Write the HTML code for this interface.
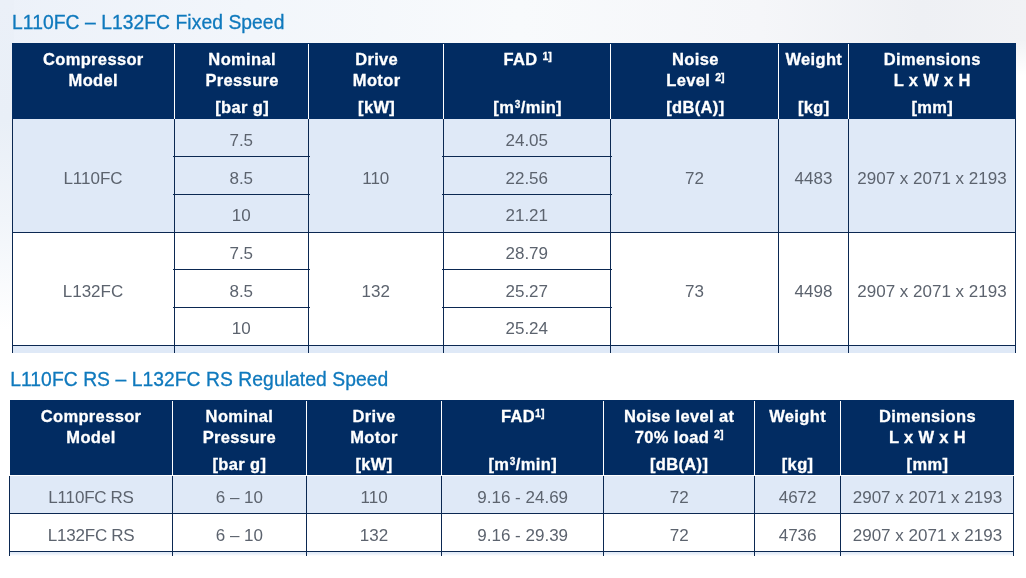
<!DOCTYPE html>
<html lang="en"><head><meta charset="utf-8"><title>L110FC – L132FC</title>
<style>
html,body{margin:0;padding:0}
body{width:1026px;height:578px;overflow:hidden;position:relative;background:#fff;font-family:"Liberation Sans",sans-serif}
.bg{position:absolute;left:0;top:0;width:1026px;height:75px;background:linear-gradient(180deg,rgba(255,255,255,0) 0,rgba(255,255,255,0) 40px,#fff 75px),linear-gradient(90deg,#ecf1f9 0,#f2f6fb 250px,#f8fafc 520px,#f5f6f9 760px,#eef0f4 920px,#f1f2f5 1026px)}
.bgl{position:absolute;left:0;top:0;width:14px;height:340px;background:linear-gradient(180deg,#ebf0f8 0,#e9eff7 120px,#f1f5fa 220px,#fff 330px)}
.r{position:absolute}
.h{position:absolute;color:#fff;font-weight:bold;font-size:16.5px;line-height:21px;text-align:center;white-space:nowrap;letter-spacing:.35px;-webkit-text-stroke:.3px #fff}
.h sup{font-size:10.6px;line-height:0;vertical-align:baseline;position:relative;top:-4.8px;letter-spacing:0}
.h sup.c{font-size:10px;top:-5px;margin:0 .5px}
.d{position:absolute;color:#5c636e;font-size:17px;line-height:20px;text-align:center;white-space:nowrap}
.t{position:absolute;color:#0f79bd;font-size:19.3px;line-height:24px;white-space:nowrap;letter-spacing:.06px;-webkit-text-stroke:.3px #0f79bd}

</style></head><body>
<div class="bg"></div><div class="bgl"></div>
<div class="t" style="left:12px;top:11px">L110FC – L132FC Fixed Speed</div>
<div class="r" style="left:12px;top:43px;width:1003.5px;height:76px;background:#022c62"></div>
<div class="r" style="left:12px;top:119px;width:1003.5px;height:113px;background:#dfe9f7"></div>
<div class="r" style="left:12px;top:232px;width:1003.5px;height:113px;background:#fff"></div>
<div class="r" style="left:12px;top:345px;width:1003.5px;height:7.5px;background:#dfe9f7"></div>
<div class="r" style="left:173.5px;top:44px;width:1px;height:75px;background:#fff"></div>
<div class="r" style="left:308.0px;top:44px;width:1px;height:75px;background:#fff"></div>
<div class="r" style="left:442.5px;top:44px;width:1px;height:75px;background:#fff"></div>
<div class="r" style="left:610.0px;top:44px;width:1px;height:75px;background:#fff"></div>
<div class="r" style="left:778.0px;top:44px;width:1px;height:75px;background:#fff"></div>
<div class="r" style="left:848.0px;top:44px;width:1px;height:75px;background:#fff"></div>
<div class="r" style="left:11.5px;top:119px;width:1.2px;height:233.5px;background:#0b2852"></div>
<div class="r" style="left:173.5px;top:119px;width:1.2px;height:233.5px;background:#0b2852"></div>
<div class="r" style="left:308.0px;top:119px;width:1.2px;height:233.5px;background:#0b2852"></div>
<div class="r" style="left:442.5px;top:119px;width:1.2px;height:233.5px;background:#0b2852"></div>
<div class="r" style="left:610.0px;top:119px;width:1.2px;height:233.5px;background:#0b2852"></div>
<div class="r" style="left:778.0px;top:119px;width:1.2px;height:233.5px;background:#0b2852"></div>
<div class="r" style="left:848.0px;top:119px;width:1.2px;height:233.5px;background:#0b2852"></div>
<div class="r" style="left:1015px;top:119px;width:1.2px;height:233.5px;background:#0b2852"></div>
<div class="r" style="left:12px;top:231.5px;width:1003.5px;height:1.2px;background:#0b2852"></div>
<div class="r" style="left:12px;top:344.5px;width:1003.5px;height:1.2px;background:#0b2852"></div>
<div class="r" style="left:173px;top:156.0px;width:137.0px;height:1.2px;background:#0b2852"></div>
<div class="r" style="left:442px;top:156.0px;width:170.0px;height:1.2px;background:#0b2852"></div>
<div class="r" style="left:173px;top:193.8px;width:137.0px;height:1.2px;background:#0b2852"></div>
<div class="r" style="left:442px;top:193.8px;width:170.0px;height:1.2px;background:#0b2852"></div>
<div class="r" style="left:173px;top:269.2px;width:137.0px;height:1.2px;background:#0b2852"></div>
<div class="r" style="left:442px;top:269.2px;width:170.0px;height:1.2px;background:#0b2852"></div>
<div class="r" style="left:173px;top:306.8px;width:137.0px;height:1.2px;background:#0b2852"></div>
<div class="r" style="left:442px;top:306.8px;width:170.0px;height:1.2px;background:#0b2852"></div>
<div class="h" style="left:12.3px;width:162.0px;top:49px">Compressor<br>Model</div>
<div class="h" style="left:174.9px;width:134.49999999999997px;top:49px">Nominal<br>Pressure</div>
<div class="h" style="left:174.9px;width:134.49999999999997px;top:97px">[bar g]</div>
<div class="h" style="left:309.4px;width:134.5px;top:49px">Drive<br>Motor</div>
<div class="h" style="left:309.4px;width:134.5px;top:97px">[kW]</div>
<div class="h" style="left:443.9px;width:167.5px;top:49px">FAD <sup>1]</sup></div>
<div class="h" style="left:443.9px;width:167.5px;top:97px">[m<sup class="c">3</sup>/min]</div>
<div class="h" style="left:611.4px;width:168.0px;top:49px">Noise<br>Level <sup>2]</sup></div>
<div class="h" style="left:611.4px;width:168.0px;top:97px">[dB(A)]</div>
<div class="h" style="left:778.8px;width:70.0px;top:49px">Weight</div>
<div class="h" style="left:778.8px;width:70.0px;top:97px">[kg]</div>
<div class="h" style="left:848.8px;width:167.0px;top:49px">Dimensions<br>L x W x H</div>
<div class="h" style="left:848.8px;width:167.0px;top:97px">[mm]</div>
<div class="d" style="left:12px;width:162px;top:168.6px">L110FC</div>
<div class="d" style="left:308.5px;width:134.5px;top:168.6px">110</div>
<div class="d" style="left:610.5px;width:168.0px;top:168.6px">72</div>
<div class="d" style="left:778.5px;width:70.0px;top:168.6px">4483</div>
<div class="d" style="left:848.5px;width:167.0px;top:168.6px">2907 x 2071 x 2193</div>
<div class="d" style="left:174px;width:134.5px;top:130.95px">7.5</div>
<div class="d" style="left:443px;width:167.5px;top:130.95px">24.05</div>
<div class="d" style="left:174px;width:134.5px;top:168.6px">8.5</div>
<div class="d" style="left:443px;width:167.5px;top:168.6px">22.56</div>
<div class="d" style="left:174px;width:134.5px;top:206.35px">10</div>
<div class="d" style="left:443px;width:167.5px;top:206.35px">21.21</div>
<div class="d" style="left:12px;width:162px;top:281.7px">L132FC</div>
<div class="d" style="left:308.5px;width:134.5px;top:281.7px">132</div>
<div class="d" style="left:610.5px;width:168.0px;top:281.7px">73</div>
<div class="d" style="left:778.5px;width:70.0px;top:281.7px">4498</div>
<div class="d" style="left:848.5px;width:167.0px;top:281.7px">2907 x 2071 x 2193</div>
<div class="d" style="left:174px;width:134.5px;top:244.04999999999998px">7.5</div>
<div class="d" style="left:443px;width:167.5px;top:244.04999999999998px">28.79</div>
<div class="d" style="left:174px;width:134.5px;top:281.7px">8.5</div>
<div class="d" style="left:443px;width:167.5px;top:281.7px">25.27</div>
<div class="d" style="left:174px;width:134.5px;top:319.34999999999997px">10</div>
<div class="d" style="left:443px;width:167.5px;top:319.34999999999997px">25.24</div>
<div class="t" style="left:10.2px;top:367.8px">L110FC RS – L132FC RS Regulated Speed</div>
<div class="r" style="left:9.8px;top:400.3px;width:1004.4000000000001px;height:75.19999999999999px;background:#022c62"></div>
<div class="r" style="left:9.8px;top:475.5px;width:1004.4000000000001px;height:38.200000000000045px;background:#dfe9f7"></div>
<div class="r" style="left:9.8px;top:513.7px;width:1004.4000000000001px;height:37.799999999999955px;background:#fff"></div>
<div class="r" style="left:9.8px;top:551.5px;width:1004.4000000000001px;height:4.5px;background:linear-gradient(180deg,#dfe9f7 0,#e6eef9 40%,#fff 100%)"></div>
<div class="r" style="left:171.8px;top:401.3px;width:1px;height:74.19999999999999px;background:#fff"></div>
<div class="r" style="left:306.0px;top:401.3px;width:1px;height:74.19999999999999px;background:#fff"></div>
<div class="r" style="left:441.1px;top:401.3px;width:1px;height:74.19999999999999px;background:#fff"></div>
<div class="r" style="left:603.3px;top:401.3px;width:1px;height:74.19999999999999px;background:#fff"></div>
<div class="r" style="left:754.0px;top:401.3px;width:1px;height:74.19999999999999px;background:#fff"></div>
<div class="r" style="left:840.2px;top:401.3px;width:1px;height:74.19999999999999px;background:#fff"></div>
<div class="r" style="left:9.3px;top:475.5px;width:1.2px;height:80.5px;background:#0b2852"></div>
<div class="r" style="left:171.8px;top:475.5px;width:1.2px;height:80.5px;background:#0b2852"></div>
<div class="r" style="left:306.0px;top:475.5px;width:1.2px;height:80.5px;background:#0b2852"></div>
<div class="r" style="left:441.1px;top:475.5px;width:1.2px;height:80.5px;background:#0b2852"></div>
<div class="r" style="left:603.3px;top:475.5px;width:1.2px;height:80.5px;background:#0b2852"></div>
<div class="r" style="left:754.0px;top:475.5px;width:1.2px;height:80.5px;background:#0b2852"></div>
<div class="r" style="left:840.2px;top:475.5px;width:1.2px;height:80.5px;background:#0b2852"></div>
<div class="r" style="left:1013px;top:475.5px;width:1.2px;height:80.5px;background:#0b2852"></div>
<div class="r" style="left:9.8px;top:513.2px;width:1004.4000000000001px;height:1.2px;background:#0b2852"></div>
<div class="r" style="left:9.8px;top:551.0px;width:1004.4000000000001px;height:1.2px;background:#0b2852"></div>
<div class="h" style="left:9.8px;width:162.5px;top:406px">Compressor<br>Model</div>
<div class="h" style="left:172.3px;width:134.2px;top:406px">Nominal<br>Pressure</div>
<div class="h" style="left:172.3px;width:134.2px;top:454px">[bar g]</div>
<div class="h" style="left:306.5px;width:135.10000000000002px;top:406px">Drive<br>Motor</div>
<div class="h" style="left:306.5px;width:135.10000000000002px;top:454px">[kW]</div>
<div class="h" style="left:441.6px;width:162.19999999999993px;top:406px">FAD<sup>1]</sup></div>
<div class="h" style="left:441.6px;width:162.19999999999993px;top:454px">[m<sup class="c">3</sup>/min]</div>
<div class="h" style="left:603.8px;width:150.70000000000005px;top:406px">Noise level at<br>70% load <sup>2]</sup></div>
<div class="h" style="left:603.8px;width:150.70000000000005px;top:454px">[dB(A)]</div>
<div class="h" style="left:754.5px;width:86.20000000000005px;top:406px">Weight</div>
<div class="h" style="left:754.5px;width:86.20000000000005px;top:454px">[kg]</div>
<div class="h" style="left:840.7px;width:173.5px;top:406px">Dimensions<br>L x W x H</div>
<div class="h" style="left:840.7px;width:173.5px;top:454px">[mm]</div>
<div class="d" style="left:9.8px;width:162.5px;top:487.8px"><span style="word-spacing:-.5px;letter-spacing:-.18px">L110FC RS</span></div>
<div class="d" style="left:172.3px;width:134.2px;top:487.8px">6 – 10</div>
<div class="d" style="left:306.5px;width:135.10000000000002px;top:487.8px">110</div>
<div class="d" style="left:441.6px;width:162.19999999999993px;top:487.8px">9.16 - 24.69</div>
<div class="d" style="left:603.8px;width:150.70000000000005px;top:487.8px">72</div>
<div class="d" style="left:754.5px;width:86.20000000000005px;top:487.8px">4672</div>
<div class="d" style="left:840.7px;width:173.5px;top:487.8px">2907 x 2071 x 2193</div>
<div class="d" style="left:9.8px;width:162.5px;top:525.8000000000001px"><span style="word-spacing:-.5px;letter-spacing:-.18px">L132FC RS</span></div>
<div class="d" style="left:172.3px;width:134.2px;top:525.8000000000001px">6 – 10</div>
<div class="d" style="left:306.5px;width:135.10000000000002px;top:525.8000000000001px">132</div>
<div class="d" style="left:441.6px;width:162.19999999999993px;top:525.8000000000001px">9.16 - 29.39</div>
<div class="d" style="left:603.8px;width:150.70000000000005px;top:525.8000000000001px">72</div>
<div class="d" style="left:754.5px;width:86.20000000000005px;top:525.8000000000001px">4736</div>
<div class="d" style="left:840.7px;width:173.5px;top:525.8000000000001px">2907 x 2071 x 2193</div>
</body></html>
